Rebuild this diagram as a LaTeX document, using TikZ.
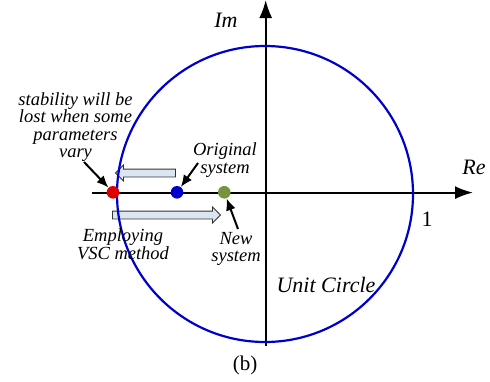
\documentclass[tikz,border=0pt]{standalone}
\usepackage{fontspec}
\setmainfont{Liberation Serif}
\usetikzlibrary{arrows.meta,shapes.arrows}

\definecolor{unitblue}{RGB}{0,0,204}
\definecolor{polered}{RGB}{220,0,0}
\definecolor{poleblue}{RGB}{0,0,204}
\definecolor{polegreen}{RGB}{119,147,60}
\definecolor{shiftfill}{RGB}{220,230,242}

\tikzset{
  axis/.style={line width=2pt,-{Latex[length=18pt,width=13pt]}},
  pole/.style={circle,inner sep=0pt,minimum size=12.6pt},
  pointer/.style={line width=2pt,-{Latex[length=12pt,width=10pt]}},
  shiftarrow/.style={single arrow,draw=black!80,fill=shiftfill,line width=0.8pt,
    inner sep=3.5pt,single arrow head extend=4pt,minimum width=15pt},
  note/.style={align=center,font=\fontsize{18.5}{17.5}\selectfont\itshape},
  axlabel/.style={font=\fontsize{22}{26}\selectfont\itshape}
}

\begin{document}
\begin{tikzpicture}[x=1pt,y=-1pt]
\useasboundingbox (0,0) rectangle (490,381);

% axes
\coordinate (xstart) at (92,192.6);
\coordinate (xend) at (473,192.6);
\coordinate (ystart) at (265.7,346);
\coordinate (yend) at (265.7,0);
\draw[axis] (xstart) -- (xend);
\draw[axis] (ystart) -- (yend);

\node[axlabel] (im) at (226,20) {Im};
\node[axlabel] (re) at (474,167) {Re};
\node[font=\fontsize{22}{26}\selectfont] (one) at (427,219) {1};

% moving the poles
\node[shiftarrow,minimum height=60pt,shape border rotate=180] (lose) at (147.5,173) {};
\node[shiftarrow,minimum height=108pt] (gain) at (164.5,215) {};

% unit circle
\draw[unitblue,line width=2.2pt] (265,194) circle (148);
\node[axlabel] (unit) at (326,285) {Unit Circle};

% poles
\node[pole,fill=polered] (red) at (113,192.3) {};
\node[pole,fill=poleblue] (blue) at (177,192.3) {};
\node[pole,fill=polegreen] (green) at (224.3,192.3) {};

% notes
\node[note] (stab) at (75.5,127) {stability will be\\lost when some\\parameters\\vary};
\node[note] (orig) at (225,160) {Original\\system};
\node[note] (vsc) at (123,244) {Employing\\VSC method};
\node[note] (new) at (236,249) {New\\system};

\coordinate (stabtail) at (84,162);
\coordinate (origtail) at (198,163);
\coordinate (newtail) at (238,229);
\draw[pointer] (stabtail) -- (red);
\draw[pointer] (origtail) -- (blue);
\draw[pointer] (newtail) -- (green);

\node[font=\fontsize{21}{25}\selectfont] (cap) at (245,365) {(b)};
\end{tikzpicture}
\end{document}
